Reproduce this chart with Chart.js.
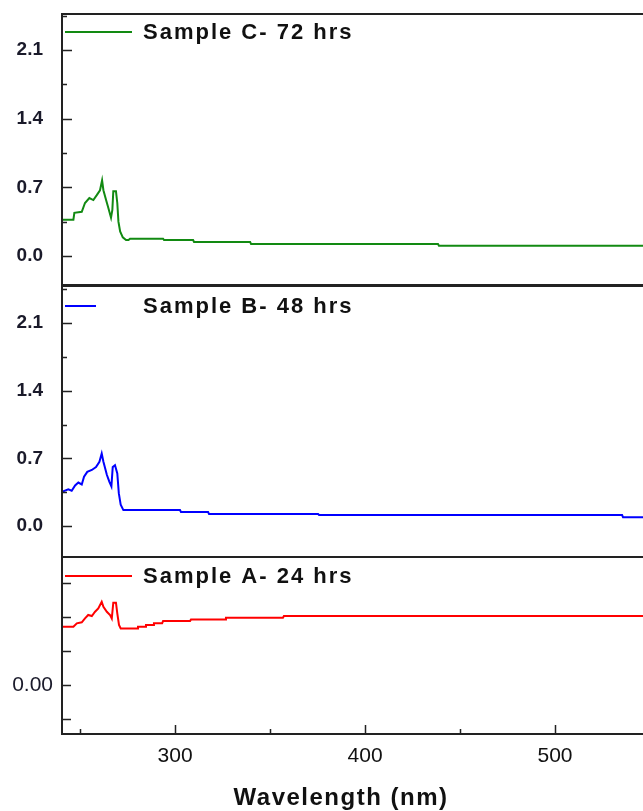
<!DOCTYPE html>
<html>
<head>
<meta charset="utf-8">
<script src="https://cdn.jsdelivr.net/npm/chart.js@4.4.1/dist/chart.umd.min.js"></script>
<style>
  html, body { margin: 0; padding: 0; background: #fff; }
  #wrap { position: relative; width: 643px; height: 811px; overflow: hidden; }
  #wrap canvas { position: absolute; left: 0; }
</style>
</head>
<body>
<div id="wrap">
  <canvas id="chartC" width="643" height="290" style="top:0px"></canvas>
  <canvas id="chartB" width="643" height="282" style="top:280px"></canvas>
  <canvas id="chartA" width="643" height="259" style="top:552px"></canvas>
</div>
<script>
// wavelengths (nm) and absorbance
const wlC  = [240.5, 246.5, 247.0, 250.9, 252.6, 254.9, 257.0, 258.8, 260.5, 261.6, 262.3, 263.7, 264.9, 266.3, 267.0, 267.5, 268.9, 269.6, 270.2, 271.1, 272.5, 274.2, 275.5, 276.3, 293.7, 294.2, 309.5, 310.0, 339.5, 340.0, 438.4, 438.9, 546.3];
const absC = [0.37, 0.37, 0.44, 0.45, 0.54, 0.59, 0.57, 0.62, 0.67, 0.77, 0.67, 0.57, 0.49, 0.39, 0.47, 0.66, 0.66, 0.54, 0.35, 0.25, 0.19, 0.163, 0.163, 0.176, 0.176, 0.163, 0.163, 0.143, 0.143, 0.122, 0.122, 0.105, 0.105];

const wlB  = [240.5, 243.8, 245.6, 247.4, 249.1, 250.9, 252.1, 253.8, 256.2, 258.4, 260.2, 261.4, 262.3, 264.1, 265.4, 266.5, 267.2, 268.4, 269.6, 270.4, 271.4, 272.8, 302.6, 303.1, 317.4, 317.9, 375.3, 375.8, 535.3, 535.8, 546.3];
const absB = [0.355, 0.38, 0.365, 0.42, 0.45, 0.43, 0.51, 0.56, 0.58, 0.61, 0.665, 0.75, 0.665, 0.53, 0.46, 0.41, 0.61, 0.63, 0.545, 0.34, 0.22, 0.165, 0.165, 0.145, 0.145, 0.124, 0.124, 0.114, 0.114, 0.09, 0.09];

const wlA  = [240.5, 246.5, 248.3, 250.9, 252.6, 254.3, 256.2, 257.9, 259.6, 261.4, 262.3, 264.1, 265.8, 266.7, 267.5, 268.9, 269.6, 270.5, 271.4, 280.0, 280.5, 284.2, 284.7, 288.4, 288.9, 293.2, 293.7, 307.9, 308.4, 326.3, 326.8, 356.8, 357.3, 546.3];
const absA = [0.0343, 0.0343, 0.0363, 0.0369, 0.0392, 0.0412, 0.0406, 0.0431, 0.0451, 0.049, 0.046, 0.0431, 0.0412, 0.0392, 0.0484, 0.0484, 0.0422, 0.0353, 0.0333, 0.0333, 0.0343, 0.0343, 0.0353, 0.0353, 0.0363, 0.0363, 0.0376, 0.0376, 0.0386, 0.0386, 0.0396, 0.0396, 0.0406, 0.0406];

// axis ticks
const xMajor = [300, 400, 500];
const xMinor = [250, 350, 450];
const yMajorCB = [0, 0.7, 1.4, 2.1];
const yMinorCB = [0.35, 1.05, 1.75, 2.45];
const yMajorA = [0];
const yMinorA = [-0.02, 0.02, 0.04, 0.06];

const X_MIN = 240.5, X_MAX = 546.3;
const FONT = "'Liberation Sans', Arial, sans-serif";

// frame + inward tick marks + legend text inside the panel
const panelPlugin = {
    id: 'panel',
    afterDraw(chart, args, opts) {
        const ctx = chart.ctx;
        const a = chart.chartArea;
        const ys = chart.scales.y;
        const xs = chart.scales.x;
        ctx.save();
        ctx.strokeStyle = '#222';
        ctx.lineWidth = 2;
        ctx.beginPath();
        ctx.moveTo(a.left, a.top); ctx.lineTo(a.right + 2, a.top);
        ctx.moveTo(a.left, a.bottom); ctx.lineTo(a.right + 2, a.bottom);
        ctx.moveTo(a.left, a.top - 1); ctx.lineTo(a.left, a.bottom + 1);
        ctx.stroke();

        ctx.lineWidth = 1.5;
        ctx.beginPath();
        opts.yMajor.forEach(v => {
            const y = Math.round(ys.getPixelForValue(v)) + 0.5;
            ctx.moveTo(a.left, y); ctx.lineTo(a.left + opts.majorLen, y);
        });
        opts.yMinor.forEach(v => {
            const y = Math.round(ys.getPixelForValue(v)) + 0.5;
            ctx.moveTo(a.left, y); ctx.lineTo(a.left + opts.minorLen, y);
        });
        if (opts.xTicks) {
            xMajor.forEach(v => {
                const x = Math.round(xs.getPixelForValue(v)) + 0.5;
                ctx.moveTo(x, a.bottom); ctx.lineTo(x, a.bottom - 9);
            });
            xMinor.forEach(v => {
                const x = Math.round(xs.getPixelForValue(v)) + 0.5;
                ctx.moveTo(x, a.bottom); ctx.lineTo(x, a.bottom - 5);
            });
        }
        ctx.stroke();

        // legend
        ctx.strokeStyle = opts.color;
        ctx.lineWidth = 2;
        ctx.beginPath();
        ctx.moveTo(a.left + 3, opts.legendY);
        ctx.lineTo(opts.sampleEnd, opts.legendY);
        ctx.stroke();
        ctx.fillStyle = '#111';
        ctx.font = 'bold 22px ' + FONT;
        ctx.letterSpacing = '2px';
        ctx.textBaseline = 'middle';
        ctx.textAlign = 'left';
        ctx.fillText(opts.label, 143, opts.legendY + 1);

        // x axis title (bottom panel only)
        if (opts.xTicks) {
            ctx.font = 'bold 24px ' + FONT;
            ctx.letterSpacing = '1.5px';
            ctx.textAlign = 'center';
            ctx.fillText('Wavelength (nm)', 341, chart.height - 13);
        }
        ctx.restore();
    }
};

function makePanel(id, cfg) {
    const pts = cfg.wl.map((w, i) => ({ x: w, y: cfg.abs[i] }));
    return new Chart(document.getElementById(id), {
        type: 'line',
        data: {
            datasets: [{
                label: cfg.label,
                data: pts,
                borderColor: cfg.color,
                borderWidth: 2,
                pointRadius: 0,
                tension: 0,
                fill: false
            }]
        },
        options: {
            responsive: false,
            animation: false,
            events: [],
            layout: { padding: { top: cfg.padTop, bottom: cfg.padBottom, left: 0, right: 0 } },
            plugins: {
                legend: { display: false },
                tooltip: { enabled: false },
                panel: {
                    yMajor: cfg.yMajor, yMinor: cfg.yMinor,
                    majorLen: cfg.majorLen, minorLen: cfg.minorLen,
                    xTicks: cfg.showX, color: cfg.color, label: cfg.label,
                    legendY: cfg.legendY, sampleEnd: cfg.sampleEnd
                }
            },
            scales: {
                x: {
                    type: 'linear',
                    min: X_MIN,
                    max: X_MAX,
                    display: cfg.showX,
                    afterBuildTicks: s => { s.ticks = xMajor.map(v => ({ value: v })); },
                    afterFit: s => { if (cfg.showX) s.height = 77; },
                    grid: { display: false, drawTicks: false },
                    border: { display: false },
                    ticks: {
                        padding: 10,
                        color: '#111',
                        font: { family: FONT, size: 21 },
                        maxRotation: 0
                    },
                    title: { display: false }
                },
                y: {
                    type: 'linear',
                    min: cfg.yMin,
                    max: cfg.yMax,
                    afterFit: s => { s.width = 62; },
                    afterBuildTicks: s => { s.ticks = cfg.yMajor.map(v => ({ value: v })); },
                    grid: { display: false, drawTicks: true, tickLength: cfg.labelPad },
                    border: { display: false },
                    ticks: {
                        padding: 0,
                        color: '#1a1a2a',
                        font: cfg.yFont,
                        callback: v => v.toFixed(cfg.decimals)
                    }
                }
            }
        },
        plugins: [panelPlugin]
    });
}

makePanel('chartC', {
    wl: wlC, abs: absC, color: '#128a12', label: 'Sample C- 72 hrs',
    yMin: -0.296, yMax: 2.467, yMajor: yMajorCB, yMinor: yMinorCB,
    majorLen: 10, minorLen: 5, decimals: 1, labelPad: 19,
    yFont: { family: FONT, size: 19, weight: 'bold', lineHeight: 0.4 },
    padTop: 14, padBottom: 5, showX: false, legendY: 32, sampleEnd: 132
});

makePanel('chartB', {
    wl: wlB, abs: absB, color: '#0000ff', label: 'Sample B- 48 hrs',
    yMin: -0.32, yMax: 2.483, yMajor: yMajorCB, yMinor: yMinorCB,
    majorLen: 10, minorLen: 5, decimals: 1, labelPad: 19,
    yFont: { family: FONT, size: 19, weight: 'bold', lineHeight: 0.4 },
    padTop: 6, padBottom: 5, showX: false, legendY: 26, sampleEnd: 96
});

makePanel('chartA', {
    wl: wlA, abs: absA, color: '#ff0000', label: 'Sample A- 24 hrs',
    yMin: -0.0288, yMax: 0.0753, yMajor: yMajorA, yMinor: yMinorA,
    majorLen: 9, minorLen: 9, decimals: 2, labelPad: 9,
    yFont: { family: FONT, size: 21, lineHeight: 0.4 },
    padTop: 5, padBottom: 0, showX: true, legendY: 24, sampleEnd: 132
});
</script>
</body>
</html>
